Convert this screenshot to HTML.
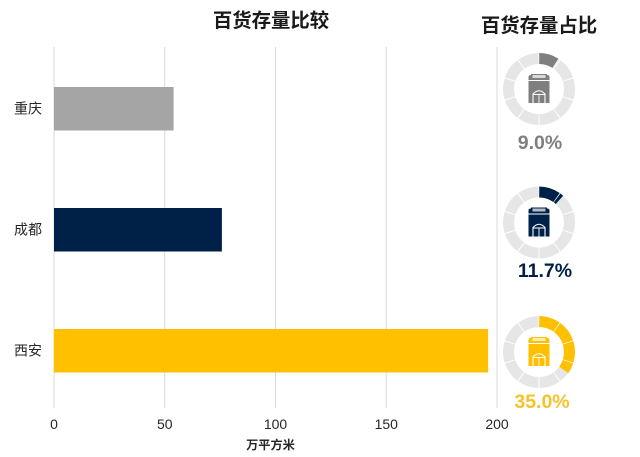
<!DOCTYPE html>
<html lang="zh">
<head>
<meta charset="utf-8">
<title>百货存量比较</title>
<style>
html,body{margin:0;padding:0;background:#fff;}
svg{display:block;font-family:"Liberation Sans","Noto Sans CJK SC",sans-serif;}
</style>
</head>
<body>
<svg id="chart" width="640" height="457" viewBox="0 0 640 457" xmlns="http://www.w3.org/2000/svg">
  <text x="271" y="27" text-anchor="middle" font-size="19.4" font-weight="700" fill="#1a1a1a">百货存量比较</text>
  <text x="539" y="32" text-anchor="middle" font-size="19.4" font-weight="700" fill="#1a1a1a">百货存量占比</text>
  <text x="270.5" y="449" text-anchor="middle" font-size="12.2" font-weight="700" fill="#262626">万平方米</text>
</svg>
<script>
const categories = ['重庆', '成都', '西安'];
const stockValues = [54, 75.8, 196];
const shareValues = [9.0, 11.7, 35.0];
const xTicks = [0, 50, 100, 150, 200];
const seriesColors = ['#a5a5a5', '#002147', '#ffc000'];
const iconColors = ['#7f7f7f', '#002147', '#ffc000'];
const labelColors = ['#7f7f7f', '#002147', '#f8c22a'];

const NS = 'http://www.w3.org/2000/svg';
const svg = document.getElementById('chart');
const xScale = v => 54 + v * 2.215;
const rowY = i => 108.5 + i * 121;
const donutY = i => [89, 222.5, 352][i];
const shareLabelX = i => [540, 545, 542][i];
const shareLabelY = i => [149, 277, 408][i];
const donutX = 539;
const SEGMENTS = 10;

function mk(tag, attrs, parent) {
  const el = document.createElementNS(NS, tag);
  for (const k in attrs) el.setAttribute(k, attrs[k]);
  (parent || svg).appendChild(el);
  return el;
}
function polar(cx, cy, r, deg) {
  const a = (deg - 90) * Math.PI / 180;
  return [cx + r * Math.cos(a), cy + r * Math.sin(a)];
}
function arcPath(cx, cy, r0, r1, a0, a1) {
  const p1 = polar(cx, cy, r1, a0), p2 = polar(cx, cy, r1, a1);
  const p3 = polar(cx, cy, r0, a1), p4 = polar(cx, cy, r0, a0);
  const large = a1 - a0 > 180 ? 1 : 0;
  return `M${p1[0]} ${p1[1]}A${r1} ${r1} 0 ${large} 1 ${p2[0]} ${p2[1]}L${p3[0]} ${p3[1]}A${r0} ${r0} 0 ${large} 0 ${p4[0]} ${p4[1]}Z`;
}

// vertical gridlines and x tick labels
xTicks.forEach(t => {
  const line = mk('line', {x1: xScale(t), x2: xScale(t), y1: 47, y2: 408, stroke: '#d9d9d9', 'stroke-width': 1});
  
  
  const label = mk('text', {x: xScale(t), y: 429, 'text-anchor': 'middle', 'font-size': 14, fill: '#262626'});
  
  
  label.textContent = t;
});

// bars and category labels
categories.forEach((c, i) => {
  const bar = mk('rect', {x: xScale(0), y: rowY(i) - 21.5, width: xScale(stockValues[i]) - xScale(0), height: 43.5, fill: seriesColors[i]});
  
  
  const label = mk('text', {x: 28, y: rowY(i) + 5, 'text-anchor': 'middle', 'font-size': 14, fill: '#262626'});
  
  
  label.textContent = c;
});

// donuts
shareValues.forEach((v, i) => {
  const cy = donutY(i);
  const step = 360 / SEGMENTS;
  const gap = 0.9;
  const end = v / 100 * 360;
  for (let s = 0; s < SEGMENTS; s++) {
    const a0 = s * step + gap, a1 = (s + 1) * step - gap;
    const seg = mk('path', {d: arcPath(donutX, cy, 25, 36, a0, a1), fill: '#e6e6e6'});
    
    
    if (end > a0) {
      const fillSeg = mk('path', {d: arcPath(donutX, cy, 25, 36, a0 - 0.5, Math.min(end, a1)), fill: iconColors[i]});
      
      
    }
  }
  // building icon
  const g = mk('g', {fill: iconColors[i]});
  
  
  mk('path', {d: `M${donutX - 10.5} ${cy - 9}V${cy - 12}Q${donutX - 10.5} ${cy - 14} ${donutX - 8} ${cy - 14}V${cy - 15}H${donutX + 8}V${cy - 14}Q${donutX + 10.5} ${cy - 14} ${donutX + 10.5} ${cy - 12}V${cy - 9}Z`}, g);
  mk('rect', {x: donutX - 6.5, y: cy - 14, width: 13, height: 3, fill: '#fff', opacity: 0.7}, g);
  mk('rect', {x: donutX - 10.5, y: cy - 8, width: 21, height: 22}, g);
  mk('path', {d: `M${donutX - 6} ${cy + 14}V${cy + 5}Q${donutX} ${cy - 1.5} ${donutX + 6} ${cy + 5}V${cy + 14}M${donutX - 6} ${cy + 5.5}H${donutX + 6}`, fill: 'none', stroke: '#fff', 'stroke-width': 1.1}, g);
  mk('line', {x1: donutX, x2: donutX, y1: cy + 5.5, y2: cy + 14, stroke: '#fff', 'stroke-width': 0.9}, g);
  const label = mk('text', {x: shareLabelX(i), y: shareLabelY(i), 'text-anchor': 'middle', 'font-size': 19.5, 'font-weight': 700, fill: labelColors[i]});
  
  
  label.textContent = v.toFixed(1) + '%';
});
</script>
</body>
</html>
